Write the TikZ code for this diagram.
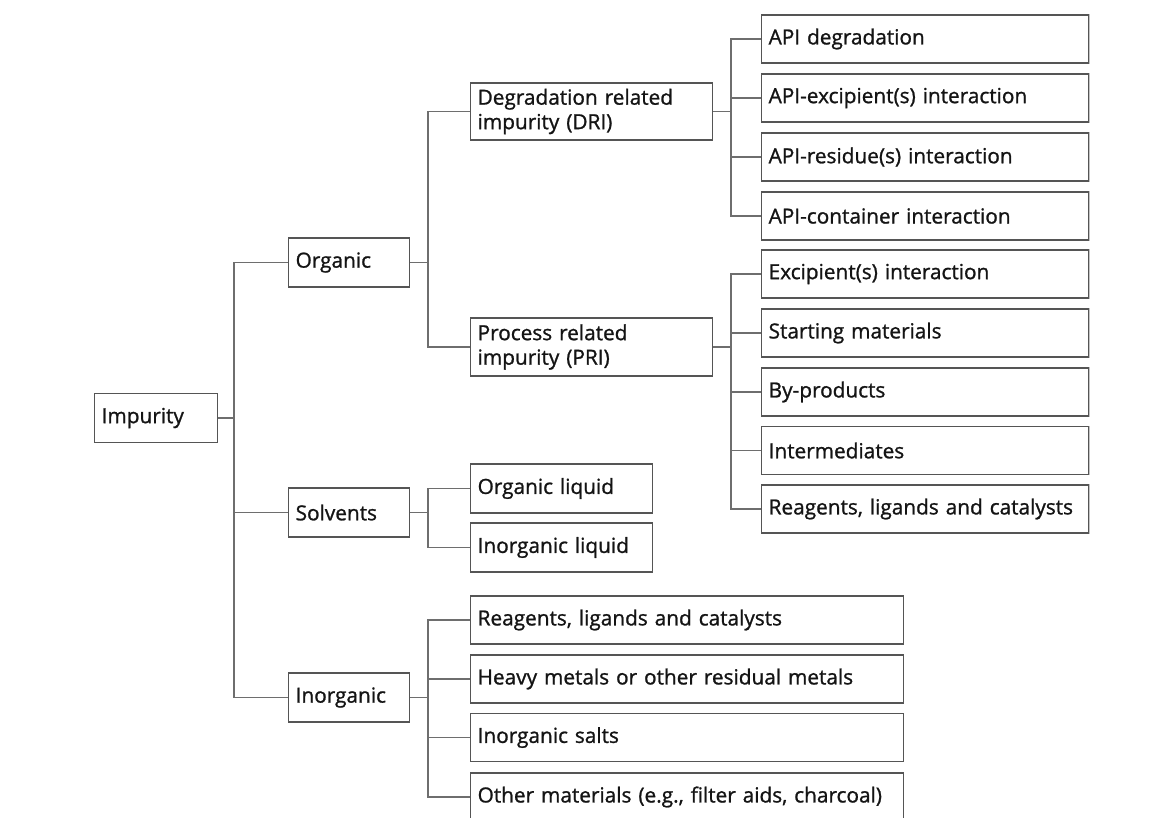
\documentclass[tikz,border=0pt]{standalone}
\usepackage{fontspec}
\setmainfont{Open Sans}
\newfontfamily\boxfont{Open Sans}[FakeBold=1.1]
\definecolor{boxc}{HTML}{555555}
\definecolor{linec}{HTML}{6E6E6E}
\definecolor{edgec}{HTML}{C4C4C4}
\begin{document}
\begin{tikzpicture}[x=1pt,y=-1pt,
  box/.style={draw=boxc, line width=1.3pt, anchor=west, align=left, inner xsep=7pt, inner ysep=0pt,
    font=\boxfont\fontsize{20.8}{24.5}\selectfont, text=black!92, minimum height=48pt},
  conn/.style={draw=linec, line width=1.3pt}]
\useasboundingbox (0,0) rectangle (1161,817);
\clip (0,0) rectangle (1161,817);
% level 0/1
\node[box, text width=109pt, minimum height=49pt] (imp) at (94,418) {Impurity};
\node[box, text width=107pt, minimum height=49pt] (org) at (288,262.5) {Organic};
\node[box, text width=107pt, minimum height=49pt] (sol) at (288,512.5) {Solvents};
\node[box, text width=107pt, minimum height=49pt] (inorg) at (288,697.5) {Inorganic};
% level 2
\node[box, text width=228pt, minimum height=57pt] (dri) at (470,111.5) {Degradation related\\impurity (DRI)};
\node[box, text width=228pt, minimum height=58pt] (pri) at (470,347) {Process related\\impurity (PRI)};
\node[box, text width=168pt, minimum height=49pt] (s1) at (470,488.5) {Organic liquid};
\node[box, text width=168pt, minimum height=49pt] (s2) at (470,547.5) {Inorganic liquid};
\node[box, text width=419pt] (i1) at (470,620) {Reagents, ligands and catalysts};
\node[box, text width=419pt] (i2) at (470,679) {Heavy metals or other residual metals};
\node[box, text width=419pt] (i3) at (470,737.5) {Inorganic salts};
\node[box, text width=419pt] (i4) at (470,797) {Other materials (e.g., filter aids, charcoal)};
% level 3
\node[box, text width=313pt] (a1) at (761,39) {API degradation};
\node[box, text width=313pt] (a2) at (761,98) {API-excipient(s) interaction};
\node[box, text width=313pt] (a3) at (761,157) {API-residue(s) interaction};
\node[box, text width=313pt] (a4) at (761,216) {API-container interaction};
\node[box, text width=313pt] (p1) at (761,274) {Excipient(s) interaction};
\node[box, text width=313pt] (p2) at (761,333) {Starting materials};
\node[box, text width=313pt] (p3) at (761,392) {By-products};
\node[box, text width=313pt] (p4) at (761,450.5) {Intermediates};
\node[box, text width=313pt] (p5) at (761,509) {Reagents, ligands and catalysts};
% light right edges of the outer boxes
\foreach \n in {a1,a2,a3,a4,p1,p2,p3,p4,p5}{
  \draw[edgec, line width=1.4pt] (\n.north east) -- (\n.south east);
}
% junction coordinates
\coordinate (t0) at (234,418);
\coordinate (t1) at (428,262.5);
\coordinate (t2) at (731,111.5);
\coordinate (t3) at (731,347);
\coordinate (t4) at (428,512.5);
\coordinate (t5) at (428,697.5);
% connectors
\draw[conn] (imp.east) -- (t0);
\draw[conn] (org.west) -- (org.west -| t0) -- (inorg.west -| t0) -- (inorg.west);
\draw[conn] (sol.west) -- (sol.west -| t0);
\draw[conn] (org.east) -- (t1);
\draw[conn] (dri.west) -- (dri.west -| t1) -- (pri.west -| t1) -- (pri.west);
\draw[conn] (dri.east) -- (t2);
\draw[conn] (a1.west) -- (a1.west -| t2) -- (a4.west -| t2) -- (a4.west);
\draw[conn] (a2.west) -- (a2.west -| t2);
\draw[conn] (a3.west) -- (a3.west -| t2);
\draw[conn] (pri.east) -- (t3);
\draw[conn] (p1.west) -- (p1.west -| t3) -- (p5.west -| t3) -- (p5.west);
\draw[conn] (p2.west) -- (p2.west -| t3);
\draw[conn] (p3.west) -- (p3.west -| t3);
\draw[conn] (p4.west) -- (p4.west -| t3);
\draw[conn] (sol.east) -- (t4);
\draw[conn] (s1.west) -- (s1.west -| t4) -- (s2.west -| t4) -- (s2.west);
\draw[conn] (inorg.east) -- (t5);
\draw[conn] (i1.west) -- (i1.west -| t5) -- (i4.west -| t5) -- (i4.west);
\draw[conn] (i2.west) -- (i2.west -| t5);
\draw[conn] (i3.west) -- (i3.west -| t5);
\end{tikzpicture}
\end{document}
